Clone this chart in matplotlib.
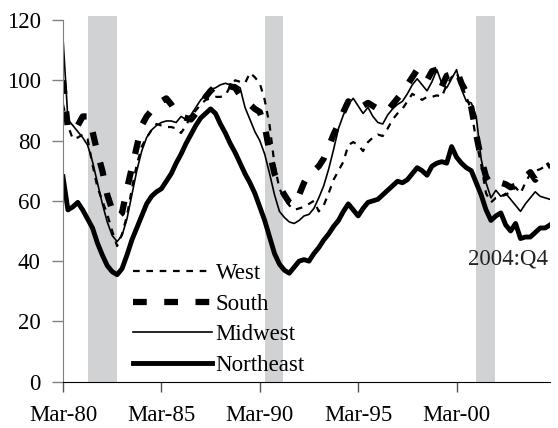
import matplotlib.pyplot as plt
import numpy as np

plt.rcParams['font.family'] = ['Liberation Serif', 'DejaVu Serif']

# quarterly index values, 1980:Q1 - 2004:Q4
west = [92, 85, 80.5, 81, 82, 80.5, 72, 64.5, 60, 55.5,
        50, 45, 49, 55, 64, 72, 78, 81, 83.5, 85.5,
        85, 84.5, 84.5, 84, 82.5, 85, 88, 90, 92, 93.5,
        94, 94.5, 94.5, 95, 98, 100, 99.5, 99, 102.5, 101,
        99, 93.5, 85, 72, 64, 61, 58.5, 57, 57.5, 58,
        59, 60, 56.5, 58.5, 62.5, 67, 70, 73, 78.5, 79.5,
        78.5, 76.5, 79.5, 81, 82, 81.5, 84, 87, 89, 90.5,
        93, 95.5, 94.5, 93.5, 94.5, 94.5, 95, 94.5, 98.5, 101,
        102.5, 98.5, 94.5, 90, 80, 72, 62.5, 59.5, 61, 61.5,
        62, 63, 64.5, 62.5, 66, 69, 70, 70.5, 71.5, 72]
south = [100, 84, 83, 85, 88, 88, 83, 76, 70, 62,
         57, 54.5, 56, 64, 71, 78, 85, 88, 90, 92,
         93, 94, 92, 89.5, 88, 87.5, 87, 89, 91.5, 94.5,
         96.5, 98, 99, 98.5, 98, 97.5, 95, 93.5, 92, 90.5,
         89.5, 85, 76, 69, 65, 62, 59.5, 58.5, 62, 66,
         69, 70, 71.5, 74, 78, 82, 85.5, 89.5, 93, 92,
         90.5, 91.5, 92.5, 91.5, 90.5, 89.5, 90, 92, 94, 96,
         98.5, 101, 103.5, 102, 100, 103, 103.5, 98, 101.5, 102,
         103.5, 99, 96, 91, 82, 74, 68, 65.5, 66.5, 66,
         65.5, 64.5, 65, 66, 68, 69.5, 67, 70, 71, 72]
midwest = [114, 87, 85, 83, 81, 78.5, 73, 66, 59, 53,
           48.5, 46.5, 48.5, 54, 62, 70, 76.5, 81, 83.5, 85,
           86, 86.5, 86.5, 86, 88, 87, 88.5, 91, 93.5, 95,
           97, 97.5, 98.5, 99, 98.5, 98.5, 97.5, 91, 87, 83,
           80, 75.5, 69, 62, 56.5, 54.5, 53, 52.5, 53.5, 55,
           55.5, 57.5, 61, 65, 70.5, 77, 84, 88.5, 92, 94,
           91.5, 89, 91, 88, 86, 85.5, 88.5, 90.5, 92, 93,
           95.5, 98.5, 100.5, 98.5, 96.5, 99.5, 103.5, 99, 97.5, 100.5,
           103.5, 97, 93, 92.5, 88, 74, 66, 61, 63.5, 61.5,
           62.5, 60.5, 58.5, 56.5, 59, 61, 63, 61.5, 61, 60.5]
northeast = [68, 57, 58, 59.5, 57, 54, 51, 46, 42, 38.5,
             36.5, 35.5, 37.5, 42, 47, 51, 55, 59, 61.5, 63,
             64, 66.5, 69, 72.5, 75.5, 79, 82, 85, 87.5, 89,
             90.5, 89, 85.5, 82.5, 79, 76, 72.5, 69, 66, 62.5,
             58, 53.5, 48, 42.5, 39, 37, 36, 38, 40, 40.5,
             40, 42.5, 44.5, 47, 49, 51.5, 53.5, 56.5, 59, 57,
             55, 57.5, 59.5, 60, 60.5, 62, 63.5, 65, 66.5, 66,
             67, 69, 71, 70, 68.5, 71.5, 72.5, 73, 72.5, 78,
             74.5, 72.5, 71, 70, 66, 62, 57, 53.5, 55, 56,
             52, 50, 52.5, 47.5, 48, 48, 49.5, 51, 51, 52]

years = 1980 + np.arange(len(west)) / 4
recessions = [(1981.25, 1982.75), (1990.25, 1991.2), (2001.0, 2001.95)]
tick_years = [1980, 1985, 1990, 1995, 2000]
tick_labels = ['Mar-80', 'Mar-85', 'Mar-90', 'Mar-95', 'Mar-00']

fs = 16.5
fig = plt.figure(figsize=(5.58, 4.28), dpi=100)
ax = fig.add_axes([63 / 558, 46.3 / 428, 487 / 558, 361.7 / 428])

for start, end in recessions:
    ax.axvspan(start, end, ymin=0, ymax=1.01, color='#d1d2d4', lw=0, clip_on=False, zorder=0)

ax.plot(years, west, color='black', lw=1.6, dashes=(3, 3), label='West')
ax.plot(years, south, color='black', lw=4.5, dashes=(2.2, 2.8), label='South')
ax.plot(years, midwest, color='black', lw=1.2, label='Midwest')
ax.plot(years, northeast, color='black', lw=3.5, label='Northeast')

ax.text(years[-1] - 0.1, 40.6, '2004:Q4', ha='right', va='center', fontsize=fs, color='#222222')

ax.set_xlim(1980, years[-1])
ax.set_ylim(0, 120)
ax.set_yticks(np.arange(0, 121, 20))
ax.set_xticks(tick_years, tick_labels)

for side in ('top', 'right'):
    ax.spines[side].set_visible(False)
ax.spines['left'].set_color('#808080')
ax.spines['bottom'].set_color('black')
ax.tick_params(axis='y', direction='out', length=8, width=1, color='#808080', pad=8, labelsize=fs)
ax.tick_params(axis='x', direction='out', length=7, width=1, color='#555555', pad=10, labelsize=fs)

ax.legend(loc='upper left', bbox_to_anchor=(133 / 558, 1 - 263 / 428), bbox_transform=fig.transFigure,
          frameon=False, fontsize=fs, handlelength=3.45, handletextpad=0.15, labelspacing=0.42,
          borderpad=0, borderaxespad=0)

plt.savefig('out.png', dpi=100)
